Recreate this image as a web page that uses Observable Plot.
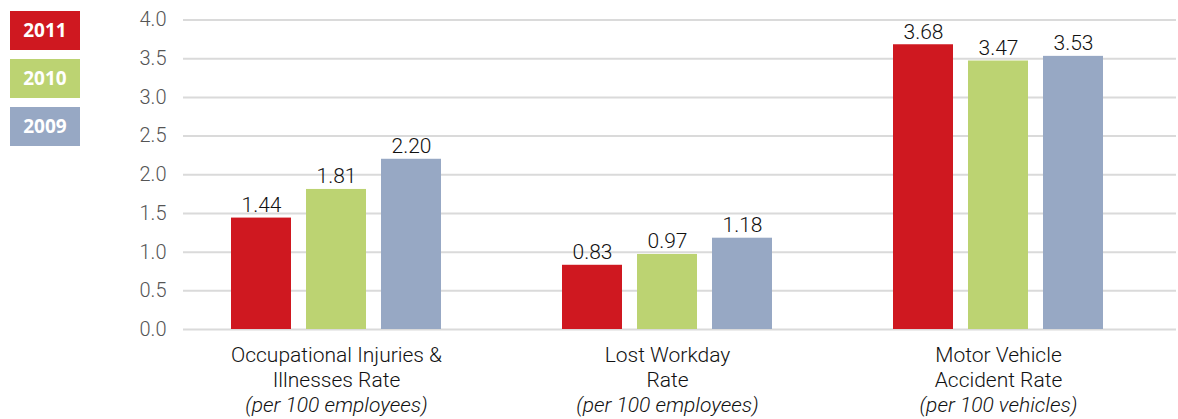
<!DOCTYPE html>
<html>
<head>
<meta charset="utf-8">
<script src="https://cdn.jsdelivr.net/npm/d3@7"></script>
<script src="https://cdn.jsdelivr.net/npm/@observablehq/plot@0.6"></script>
<style>
  html, body { margin: 0; padding: 0; background: #fff; }
  #wrap { position: relative; width: 1178px; height: 419px; font-family: Roboto, "Noto Sans", sans-serif; }
  .leg { position: absolute; left: 10px; width: 70px; height: 39px; color: #fff; font-weight: 700;
         font-size: 19px; line-height: 39px; text-align: center; font-family: "Noto Sans", Roboto, sans-serif; }
</style>
</head>
<body>
<div id="wrap"></div>
<script>
const groups = ["Occupational Injuries &\nIllnesses Rate", "Lost Workday\nRate", "Motor Vehicle\nAccident Rate"];
const groupUnits = ["(per 100 employees)", "(per 100 employees)", "(per 100 vehicles)"];
const years = ["2011", "2010", "2009"];
const colors = ["#cf1820", "#bcd372", "#97a8c4"];
const values2011 = [1.44, 0.83, 3.68];
const values2010 = [1.81, 0.97, 3.47];
const values2009 = [2.20, 1.18, 3.53];
const yTicks = [0, 0.5, 1, 1.5, 2, 2.5, 3, 3.5, 4];

const series = [values2011, values2010, values2009];
const data = [];
groups.forEach((g, i) => years.forEach((y, j) => data.push({group: g, year: y, value: series[j][i]})));
const labelData = groups.map((g, i) => ({group: g, unit: groupUnits[i]}));
const middleYear = years[1];

const chart = Plot.plot({
  width: 1178,
  height: 419,
  marginLeft: 182,
  marginRight: 2,
  marginTop: 19.5,
  marginBottom: 90,
  style: {fontFamily: "Roboto, 'Noto Sans', sans-serif", background: "#fff"},
  fx: {domain: groups, padding: 0, axis: null},
  x: {domain: years, paddingInner: 0.2, paddingOuter: 0.78, align: 0.4, axis: null},
  y: {domain: [0, 4], axis: null},
  color: {domain: years, range: colors},
  marks: [
    Plot.ruleY(yTicks, {stroke: "#dadada", strokeWidth: 2}),
    Plot.axisY({ticks: yTicks, tickFormat: d3.format(".1f"), tickSize: 0, tickPadding: 17, label: null,
                fontSize: 20, fontWeight: 300, fill: "#555"}),
    Plot.barY(data, {fx: "group", x: "year", y: "value", fill: "year"}),
    Plot.text(data, {fx: "group", x: "year", y: "value", text: d => d.value.toFixed(2),
                     lineAnchor: "bottom", dy: -6, fontSize: 21, fontWeight: 300, fill: "#111"}),
    Plot.text(labelData, {fx: "group", x: () => middleYear, frameAnchor: "bottom", text: "group",
                          lineAnchor: "top", dy: 15, lineHeight: 1.19, fontSize: 21, fontWeight: 300, fill: "#111"}),
    Plot.text(labelData, {fx: "group", x: () => middleYear, frameAnchor: "bottom", text: "unit",
                          lineAnchor: "middle", dy: 76, fontSize: 21, fontWeight: 300, fontStyle: "italic", fill: "#111"})
  ]
});

const wrap = document.getElementById("wrap");
wrap.appendChild(chart);
const tops = [11, 59, 107];
years.forEach((y, i) => {
  const d = document.createElement("div");
  d.className = "leg";
  d.style.top = tops[i] + "px";
  d.style.background = colors[i];
  d.textContent = y;
  wrap.appendChild(d);
});
</script>
</body>
</html>
